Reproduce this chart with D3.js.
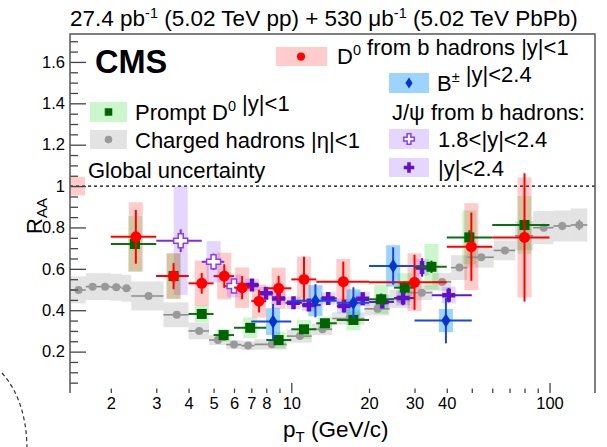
<!DOCTYPE html>
<html>
<head>
<meta charset="utf-8">
<script src="https://cdn.jsdelivr.net/npm/d3@7"></script>
<style>
  html, body { margin: 0; padding: 0; background: #fff; }
  svg { display: block; font-family: "Liberation Sans", Arial, Helvetica, sans-serif; }
</style>
</head>
<body>
<svg id="chart" width="607" height="447"></svg>
<script>
// ---------------- DATA ----------------
// Charged hadrons |eta|<1
const chPt  = [1.5,1.7,1.9,2.1,2.3,2.8,3.6,4.4,5.2,6.0,6.8,8.4,10.8,13.2,16.8,21.6,26.4,32,38.4,44.8,54.4,67.2,80,95,112,130.4];
const chLo  = [1.4,1.6,1.8,2.0,2.2,2.4,3.2,4.0,4.8,5.6,6.4,7.2,9.6,12,14.4,19.2,24,28.8,35.2,41.6,48,60.8,73.6,86.4,103.6,120.8];
const chHi  = [1.6,1.8,2.0,2.2,2.4,3.2,4.0,4.8,5.6,6.4,7.2,9.6,12,14.4,19.2,24,28.8,35.2,41.6,48,60.8,73.6,86.4,103.6,120.8,140];
const chR   = [0.498,0.514,0.514,0.511,0.506,0.469,0.378,0.300,0.256,0.234,0.229,0.235,0.275,0.308,0.360,0.407,0.454,0.485,0.537,0.606,0.656,0.689,0.760,0.799,0.807,0.812];
const chStat= [0.005,0.005,0.005,0.005,0.005,0.005,0.005,0.005,0.005,0.005,0.005,0.005,0.005,0.005,0.005,0.005,0.005,0.005,0.005,0.006,0.008,0.01,0.012,0.015,0.02,0.025];
const chSys = [0.065,0.065,0.065,0.065,0.065,0.07,0.06,0.04,0.024,0.022,0.022,0.025,0.032,0.028,0.03,0.032,0.044,0.036,0.043,0.06,0.05,0.048,0.07,0.08,0.075,0.08];

// Prompt D0 |y|<1
const pdPt  = [2.48,3.5,4.5,5.47,6.93,8.93,11.2,13.5,17.4,22.3,27.5,34.9,48.9,80];
const pdLo  = [2,3,4,5,6,8,10,12.5,15,20,25,30,40,60];
const pdHi  = [3,4,5,6,8,10,12.5,15,20,25,30,40,60,100];
const pdR   = [0.72,0.565,0.382,0.28,0.315,0.256,0.308,0.337,0.353,0.453,0.509,0.61,0.752,0.812];
const pdStat= [0.012,0.012,0.012,0.012,0.015,0.015,0.02,0.02,0.02,0.028,0.03,0.03,0.035,0.025];
const pdSys = [0.135,0.11,0.04,0.03,0.05,0.04,0.045,0.03,0.05,0.07,0.07,0.11,0.13,0.14];

// D0 from b hadrons |y|<1
const nbPt  = [2.5,3.5,4.5,5.5,6.45,7.5,8.93,11.2,15.9,30,49.8,80];
const nbLo  = [2,3,4,5,6,7,8,10,12.5,20,40,60];
const nbHi  = [3,4,5,6,7,8,10,12.5,20,40,60,100];
const nbR   = [0.755,0.565,0.53,0.565,0.509,0.444,0.506,0.549,0.538,0.535,0.707,0.752];
const nbStat= [0.13,0.063,0.05,0.057,0.056,0.055,0.06,0.11,0.097,0.133,0.165,0.31];
const nbSys = [0.167,0.11,0.11,0.113,0.098,0.08,0.1,0.11,0.11,0.14,0.21,0.29];

// B+- |y|<2.4
const bpPt  = [8.5,12.4,17.4,24.8,39.7];
const bpLo  = [7,10,15,20,30];
const bpHi  = [10,15,20,30,50];
const bpR   = [0.345,0.446,0.436,0.614,0.35];
const bpStat= [0.085,0.08,0.075,0.09,0.11];
const bpSys = [0.065,0.075,0.065,0.1,0.056];

// Non-prompt J/psi 1.8<|y|<2.4 (open crosses)
const joPt  = [3.73,5.0,6.0];
const joLo  = [3,4.5,5.5];
const joHi  = [4.5,5.5,6.5];
const joR   = [0.736,0.634,0.517];
const joStat= [0.055,0.04,0.03];
const joSys = [0.263,0.1,0.055];

// Non-prompt J/psi |y|<2.4 (filled crosses)
const jfPt  = [7.04,7.98,8.93,10.2,11.7,13.9,16.0,18.9,22.5,27.1,32.1,40.7];
const jfLo  = [6.5,7.5,8.5,9.5,11,13,15,17.5,20,25,30,35];
const jfHi  = [7.5,8.5,9.5,11,13,15,17.5,20,25,30,35,50];
const jfR   = [0.522,0.482,0.457,0.436,0.425,0.457,0.42,0.455,0.44,0.459,0.607,0.473];
const jfStat= [0.025,0.025,0.025,0.025,0.025,0.025,0.03,0.03,0.03,0.035,0.045,0.035];
const jfSys = [0.03,0.03,0.03,0.03,0.03,0.03,0.035,0.035,0.035,0.035,0.04,0.04];

// global uncertainty
const globalUnc = 0.045;

// ticks
const yMajor = [0.2,0.4,0.6,0.8,1.0,1.2,1.4,1.6];
const yMinor = d3.range(1, 35).map(i => +(i*0.05).toFixed(2));
const xMinor = [2,3,4,5,6,7,8,9,20,30,40,50,60,70,80,90];
const xMajor = [10,100];
const xLabels = [2,3,4,5,6,7,8,10,20,30,40,100];

// ---------------- CHART ----------------
const svg = d3.select("#chart");
const L = 70, R = 595, T = 34, B = 393;
const x = d3.scaleLog().domain([1.39, 150]).range([L, R]);
const y = d3.scaleLinear().domain([0, 1.735]).range([B, T]);

const rows = (pt, lo, hi, r, st, sy) => pt.map((p, i) => ({pt: p, lo: lo[i], hi: hi[i], r: r[i], st: st[i], sy: sy[i]}));
const CH = rows(chPt, chLo, chHi, chR, chStat, chSys);
const PD = rows(pdPt, pdLo, pdHi, pdR, pdStat, pdSys);
const NB = rows(nbPt, nbLo, nbHi, nbR, nbStat, nbSys);
const BP = rows(bpPt, bpLo, bpHi, bpR, bpStat, bpSys);
const JO = rows(joPt, joLo, joHi, joR, joStat, joSys);
const JF = rows(jfPt, jfLo, jfHi, jfR, jfStat, jfSys);

const styles = {
  ch: {box: "rgba(128,128,128,0.22)", line: "#8c8c8c", mark: "#999999", lw: 1.6},
  pd: {box: "rgba(0,210,0,0.2)", line: "#0a7010", mark: "#006400", lw: 2},
  nb: {box: "rgba(255,0,0,0.2)", line: "#ff0000", mark: "#ff0000", lw: 2},
  bp: {box: "rgba(20,150,255,0.42)", line: "#1848e0", mark: "#0634c8", lw: 2},
  jo: {box: "rgba(150,90,255,0.25)", line: "#7a2ee6", mark: "#8a3cf0", lw: 2},
  jf: {box: "rgba(150,90,255,0.25)", line: "#6412d4", mark: "#6010c8", lw: 2}
};

// global uncertainty box
svg.append("rect")
  .attr("x", L).attr("width", 15)
  .attr("y", y(1 + globalUnc)).attr("height", y(1 - globalUnc) - y(1 + globalUnc))
  .attr("fill", "rgba(255,0,0,0.2)");

// dashed line at 1
svg.append("line")
  .attr("x1", L).attr("x2", R).attr("y1", y(1)).attr("y2", y(1))
  .attr("stroke", "#000").attr("stroke-width", 1.4).attr("stroke-dasharray", "3,3");

const boxHalf = 7;
function drawBoxes(data, st, binWidth) {
  svg.append("g").selectAll("rect").data(data).join("rect")
    .attr("x", d => binWidth ? x(d.lo) : x(d.pt) - boxHalf)
    .attr("width", d => binWidth ? x(d.hi) - x(d.lo) : 2 * boxHalf)
    .attr("y", d => y(d.r + d.sy))
    .attr("height", d => y(d.r - d.sy) - y(d.r + d.sy))
    .attr("fill", st.box);
}
function drawBars(data, st) {
  const g = svg.append("g").attr("stroke", st.line).attr("stroke-width", st.lw);
  g.selectAll("line.h").data(data).join("line").attr("class", "h")
    .attr("x1", d => x(d.lo)).attr("x2", d => x(d.hi))
    .attr("y1", d => y(d.r)).attr("y2", d => y(d.r));
  g.selectAll("line.v").data(data).join("line").attr("class", "v")
    .attr("x1", d => x(d.pt)).attr("x2", d => x(d.pt))
    .attr("y1", d => y(d.r + d.st)).attr("y2", d => y(d.r - d.st));
}
const crossPath = (cx, cy, a, t) => {
  const h = t / 2;
  return `M${cx-h},${cy-a}H${cx+h}V${cy-h}H${cx+a}V${cy+h}H${cx+h}V${cy+a}H${cx-h}V${cy+h}H${cx-a}V${cy-h}H${cx-h}Z`;
};
const diamondPath = (cx, cy, w, h) => `M${cx},${cy-h}L${cx+w},${cy}L${cx},${cy+h}L${cx-w},${cy}Z`;

function marker(g, kind, cx, cy, st, scale) {
  const s = scale || 1;
  if (kind === "circle") g.append("circle").attr("cx", cx).attr("cy", cy).attr("r", 5.5 * s).attr("fill", st.mark);
  if (kind === "dot") g.append("circle").attr("cx", cx).attr("cy", cy).attr("r", 4 * s).attr("fill", st.mark);
  if (kind === "square") g.append("rect").attr("x", cx - 5 * s).attr("y", cy - 5 * s).attr("width", 10 * s).attr("height", 10 * s).attr("fill", st.mark);
  if (kind === "diamond") g.append("path").attr("d", diamondPath(cx, cy, 4.5 * s, 7 * s)).attr("fill", st.mark);
  if (kind === "cross") g.append("path").attr("d", crossPath(cx, cy, 6.5 * s, 4.5 * s)).attr("fill", st.mark);
  if (kind === "ocross") g.append("path").attr("d", crossPath(cx, cy, 7 * s, 5 * s)).attr("fill", "#fff").attr("stroke", st.mark).attr("stroke-width", 1.5);
}
function drawMarkers(data, kind, st) {
  const g = svg.append("g");
  data.forEach(d => marker(g, kind, x(d.pt), y(d.r), st));
}

// boxes first
drawBoxes(CH, styles.ch, true);
drawBoxes(JO, styles.jo, false);
drawBoxes(JF, styles.jf, false);
drawBoxes(PD, styles.pd, false);
drawBoxes(NB, styles.nb, false);
drawBoxes(BP, styles.bp, false);

// bars and markers
drawBars(CH, styles.ch); drawMarkers(CH, "dot", styles.ch);
drawBars(JO, styles.jo); drawMarkers(JO, "ocross", styles.jo);
drawBars(JF, styles.jf); drawMarkers(JF, "cross", styles.jf);
drawBars(PD, styles.pd); drawMarkers(PD, "square", styles.pd);
drawBars(NB, styles.nb); drawMarkers(NB, "circle", styles.nb);
drawBars(BP, styles.bp); drawMarkers(BP, "diamond", styles.bp);

// ---------------- AXES ----------------
const axisColor = "#444";
const yAx = svg.append("g").attr("transform", `translate(${L},0)`)
  .call(d3.axisLeft(y).tickValues(yMajor).tickSizeInner(-16).tickSizeOuter(0).tickPadding(5)
    .tickFormat(d => d === 1 ? "1" : d3.format(".1f")(d)));
yAx.select(".domain").remove();
yAx.selectAll("line").attr("stroke", axisColor).attr("stroke-width", 1.3);
yAx.selectAll("text").attr("font-size", 16.5).attr("font-family", "Liberation Sans, Arial, sans-serif").attr("fill", "#000");

const yAxMin = svg.append("g").attr("transform", `translate(${L},0)`)
  .call(d3.axisLeft(y).tickValues(yMinor.filter(v => !yMajor.some(m => Math.abs(m - v) < 1e-6))).tickSizeInner(-8).tickSizeOuter(0).tickFormat(""));
yAxMin.select(".domain").remove();
yAxMin.selectAll("line").attr("stroke", axisColor).attr("stroke-width", 1.3);

const xAx = svg.append("g").attr("transform", `translate(0,${B})`)
  .call(d3.axisBottom(x).tickValues(xMinor).tickSizeInner(-4.5).tickSizeOuter(0).tickPadding(4)
    .tickFormat(d => xLabels.includes(d) ? String(d) : ""));
xAx.select(".domain").remove();
xAx.selectAll("line").attr("stroke", axisColor).attr("stroke-width", 1.3);
xAx.selectAll("text").attr("font-size", 16.5).attr("font-family", "Liberation Sans, Arial, sans-serif").attr("fill", "#000");

const xAxMaj = svg.append("g").attr("transform", `translate(0,${B})`)
  .call(d3.axisBottom(x).tickValues(xMajor).tickSizeInner(-10).tickSizeOuter(0).tickPadding(4)
    .tickFormat(d => xLabels.includes(d) ? String(d) : ""));
xAxMaj.select(".domain").remove();
xAxMaj.selectAll("line").attr("stroke", axisColor).attr("stroke-width", 1.3);
xAxMaj.selectAll("text").attr("font-size", 16.5).attr("font-family", "Liberation Sans, Arial, sans-serif").attr("fill", "#000");

// frame (no bottom line)
svg.append("path").attr("d", `M${L},${B}V${T}H${R}V${B}`)
  .attr("fill", "none").attr("stroke", "#555").attr("stroke-width", 1.5);

// axis titles
const xt = svg.append("text").attr("x", 283).attr("y", 437).attr("font-size", 22.5).attr("fill", "#000");
xt.append("tspan").text("p");
xt.append("tspan").attr("font-size", 15).attr("dy", 5).text("T");
xt.append("tspan").attr("dy", -5).text(" (GeV/c)");

const yt = svg.append("text").attr("transform", "translate(42,216) rotate(-90)")
  .attr("text-anchor", "middle").attr("font-size", 22).attr("fill", "#000");
yt.append("tspan").text("R");
yt.append("tspan").attr("font-size", 15).attr("dy", 5).text("AA");

// title
const tt = svg.append("text").attr("x", 70).attr("y", 26).attr("font-size", 22.5).attr("fill", "#000");
tt.append("tspan").text("27.4 pb");
tt.append("tspan").attr("font-size", 14.5).attr("dy", -8).text("-1");
tt.append("tspan").attr("dy", 8).text(" (5.02 TeV pp) + 530 μb");
tt.append("tspan").attr("font-size", 14.5).attr("dy", -8).text("-1");
tt.append("tspan").attr("dy", 8).text(" (5.02 TeV PbPb)");

// CMS
svg.append("text").attr("x", 95).attr("y", 73).attr("font-size", 32.5).attr("font-weight", "bold").attr("fill", "#000").text("CMS");

// ---------------- LEGEND ----------------
const lg = svg.append("g");
function legBox(x0, y0, w, h, fill) {
  lg.append("rect").attr("x", x0).attr("y", y0).attr("width", w).attr("height", h).attr("fill", fill);
}
function legText(x0, yb, parts) {
  const t = lg.append("text").attr("x", x0).attr("y", yb).attr("font-size", 22).attr("fill", "#000");
  parts.forEach(p => {
    if (typeof p === "string") t.append("tspan").text(p);
    else t.append("tspan").attr("font-size", 14.5).attr("dy", p.dy).text(p.t);
  });
  return t;
}
// left legend
legBox(90, 102, 37, 20, styles.pd.box);
marker(lg, "square", 108.5, 112, styles.pd, 0.75);
legText(135, 120, ["Prompt D", {t: "0", dy: -9}, {t: "", dy: 9}, " |y|<1"]);

legBox(90, 130, 37, 19, "rgba(128,128,128,0.22)");
marker(lg, "dot", 108.5, 139.5, styles.ch, 0.95);
legText(135, 147.5, ["Charged hadrons |η|<1"]);

legText(88, 178, ["Global uncertainty"]);

// right legend
legBox(276, 47, 51, 19, styles.nb.box);
marker(lg, "circle", 301, 56.5, styles.nb, 0.75);
legText(337, 63.5, ["D", {t: "0", dy: -9}, {t: "", dy: 9}, " from b hadrons |y|<1"]);

legBox(389, 73, 40, 20, styles.bp.box);
marker(lg, "diamond", 409, 83, styles.bp, 0.8);
legText(437, 91, ["B", {t: "±", dy: -9}, {t: "", dy: 9}, " |y|<2.4"]);

legText(392, 120, ["J/ψ from b hadrons:"]);

legBox(389, 129, 40, 20, styles.jo.box);
marker(lg, "ocross", 409, 139, styles.jo, 0.75);
legText(438, 147, ["1.8<|y|<2.4"]);

legBox(389, 158, 40, 19, styles.jf.box);
marker(lg, "cross", 409, 167.5, styles.jf, 0.8);
legText(438, 175.5, ["|y|<2.4"]);

// dashed arc artefact at bottom-left
svg.append("path").attr("d", "M2,373 Q26,400 27,447")
  .attr("fill", "none").attr("stroke", "#333").attr("stroke-width", 1.2).attr("stroke-dasharray", "4,3");
</script>
</body>
</html>
